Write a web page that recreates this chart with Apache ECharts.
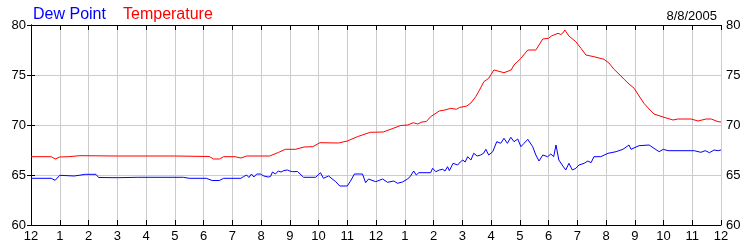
<!DOCTYPE html>
<html><head><meta charset="utf-8">
<script src="https://cdn.jsdelivr.net/npm/echarts@6/dist/echarts.min.js"></script>
<style>html,body{margin:0;padding:0;background:#fff}#c{width:750px;height:250px}</style>
</head><body><div id="c"></div>
<script>
const seriesNames = ['Dew Point', 'Temperature'];
const dateLabel = '8/8/2005';
const yTicks = [60, 65, 70, 75, 80];
const hourTicks = [0,1,2,3,4,5,6,7,8,9,10,11,12,13,14,15,16,17,18,19,20,21,22,23,24];

const tempHours = [0,0.7,0.85,1.0,1.3,1.7,3.0,5.0,6.2,6.35,6.55,6.7,7.1,7.3,7.5,8.3,8.6,8.85,9.2,9.5,9.8,10.05,10.7,11.0,11.35,11.8,12.25,12.6,12.86,13.1,13.3,13.45,13.6,13.75,13.9,14.2,14.4,14.6,14.8,14.9,15.16,15.3,15.47,15.6,15.75,15.92,16.1,16.24,16.45,16.7,16.8,17.04,17.28,17.56,17.67,17.8,18.0,18.1,18.15,18.33,18.43,18.5,18.57,18.71,18.95,19.13,19.3,19.58,19.93,20.1,20.28,20.45,20.63,20.8,20.98,21.15,21.32,21.5,21.67,22.02,22.33,22.5,22.96,23.2,23.48,23.66,23.9,24.0];
const tempValues = [66.83,66.83,66.6,66.8,66.83,66.93,66.9,66.9,66.85,66.6,66.6,66.83,66.83,66.7,66.9,66.9,67.25,67.57,67.57,67.8,67.83,68.23,68.2,68.4,68.83,69.27,69.3,69.67,69.95,70.0,70.23,70.1,70.3,70.35,70.83,71.4,71.5,71.67,71.57,71.75,71.9,72.2,72.83,73.5,74.33,74.67,75.5,75.4,75.23,75.5,76.0,76.67,77.5,77.5,78.0,78.6,78.67,78.9,79.0,79.17,79.05,79.2,79.5,78.9,78.33,77.67,77.0,76.83,76.57,76.2,75.57,75.1,74.57,74.1,73.67,72.9,72.17,71.6,71.1,70.77,70.5,70.6,70.6,70.4,70.6,70.6,70.33,70.3];

const dewHours = [0,0.7,0.84,1.0,1.5,1.9,2.26,2.35,3.0,3.7,5.3,5.5,6.1,6.3,6.55,6.7,7.3,7.4,7.5,7.58,7.67,7.75,7.85,7.98,8.1,8.25,8.33,8.4,8.5,8.6,8.7,8.8,8.92,9.0,9.1,9.27,9.48,9.9,10.07,10.17,10.35,10.6,10.74,11.0,11.1,11.25,11.53,11.64,11.74,11.99,12.23,12.4,12.62,12.75,12.92,13.1,13.2,13.31,13.4,13.49,13.9,13.97,14.08,14.2,14.32,14.4,14.49,14.55,14.68,14.84,14.93,15.02,15.1,15.19,15.3,15.4,15.52,15.64,15.75,15.82,15.92,16.06,16.2,16.34,16.45,16.57,16.69,16.8,16.93,17.04,17.15,17.28,17.45,17.56,17.67,17.8,17.97,18.08,18.18,18.26,18.36,18.5,18.6,18.71,18.83,18.95,19.06,19.24,19.37,19.48,19.58,19.82,20.07,20.35,20.59,20.8,20.87,21.15,21.5,21.67,21.85,21.99,22.16,23.07,23.3,23.45,23.6,23.76,23.9,24.0];
const dewValues = [64.67,64.67,64.47,64.97,64.9,65.07,65.07,64.75,64.73,64.77,64.77,64.67,64.67,64.45,64.45,64.67,64.67,64.85,65.0,64.75,65.1,64.8,65.1,65.1,64.9,64.8,64.85,65.3,65.1,65.4,65.3,65.45,65.5,65.4,65.33,65.35,64.77,64.77,65.23,64.67,64.9,64.33,63.9,63.9,64.33,65.1,65.1,64.23,64.6,64.33,64.6,64.27,64.4,64.17,64.3,64.6,64.9,65.4,65.0,65.23,65.23,65.67,65.33,65.5,65.57,65.4,65.83,65.43,66.17,66.0,66.3,66.5,66.3,66.83,66.5,67.17,66.9,67.0,67.2,67.57,67.0,67.33,68.33,68.17,68.67,68.17,68.77,68.33,68.6,67.83,68.17,68.57,67.83,67.0,66.4,67.0,66.83,67.1,66.83,68.0,66.5,65.9,65.5,66.17,65.5,65.67,66.0,66.17,66.4,66.23,66.83,66.83,67.17,67.33,67.57,68.0,67.57,67.93,68.0,67.67,67.33,67.57,67.43,67.43,67.27,67.43,67.23,67.5,67.43,67.5];

const tempData = tempHours.map((h, i) => [h, tempValues[i]]);
const dewData = dewHours.map((h, i) => [h, dewValues[i]]);
const hourLabel = v => { const h = Math.round(v) % 12; return String(h === 0 ? 12 : h); };

const font = 'Liberation Sans, Arial, sans-serif';
const chart = echarts.init(document.getElementById('c'), null, {renderer: 'canvas'});
const xCommon = {
  type: 'value', min: hourTicks[0], max: hourTicks[hourTicks.length - 1], interval: 1,
  axisLine: {show: true, onZero: false, lineStyle: {color: '#000', width: 1}},
  axisTick: {show: true, inside: true, length: 5, lineStyle: {color: '#000'}}
};
const yCommon = {
  type: 'value', min: yTicks[0], max: yTicks[yTicks.length - 1], interval: 5,
  axisLine: {show: true, lineStyle: {color: '#000', width: 1}},
  axisTick: {show: true, inside: true, length: 4, lineStyle: {color: '#000'}},
  axisLabel: {color: '#000', fontFamily: font, fontSize: 13, margin: 5}
};
chart.setOption({
  animation: false,
  backgroundColor: '#fff',
  title: [
    {text: seriesNames[0], left: 28, top: 2, textStyle: {color: '#0000ff', fontFamily: font, fontSize: 16, fontWeight: 'normal'}},
    {text: seriesNames[1], left: 118, top: 2, textStyle: {color: '#ff0000', fontFamily: font, fontSize: 16, fontWeight: 'normal'}},
    {text: dateLabel, right: 28, top: 5, textStyle: {color: '#000', fontFamily: font, fontSize: 13, fontWeight: 'normal'}}
  ],
  grid: {left: 31, right: 29, top: 25, bottom: 25, containLabel: false},
  xAxis: [
    Object.assign({}, xCommon, {position: 'bottom',
      splitLine: {show: true, lineStyle: {color: '#cccccc', width: 1}},
      axisLabel: {color: '#000', fontFamily: font, fontSize: 13, margin: 5, formatter: hourLabel}}),
    Object.assign({}, xCommon, {position: 'top', splitLine: {show: false}, axisLabel: {show: false}})
  ],
  yAxis: [
    Object.assign({}, yCommon, {position: 'left', splitLine: {show: true, lineStyle: {color: '#cccccc', width: 1}}}),
    Object.assign({}, yCommon, {position: 'right', splitLine: {show: false}})
  ],
  series: [
    {name: seriesNames[0], type: 'line', data: dewData, showSymbol: false, lineStyle: {color: '#0000ff', width: 1}, z: 3},
    {name: seriesNames[1], type: 'line', data: tempData, showSymbol: false, lineStyle: {color: '#ff0000', width: 1}, z: 3}
  ]
});
</script></body></html>
